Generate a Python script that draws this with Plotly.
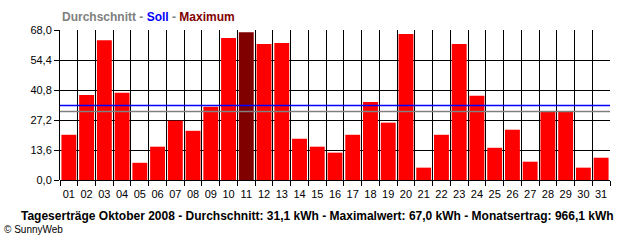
import plotly.graph_objects as go

days = [f"{d:02d}" for d in range(1, 32)]
yields = [20.5, 38.5, 63.4, 39.5, 7.8, 15.1, 26.9, 22.3, 33.2, 64.4,
          67.0, 61.7, 62.1, 18.7, 15.1, 12.4, 20.5, 35.4, 26.0, 66.2,
          5.6, 20.5, 61.7, 38.2, 14.6, 22.8, 8.3, 31.0, 31.0, 5.6, 10.1]
average = 31.1
target = 33.8
y_ticks = [0.0, 13.6, 27.2, 40.8, 54.4, 68.0]

xpos = list(range(1, len(days) + 1))
max_val = max(yields)
colors = ["#800000" if v == max_val else "#ff0000" for v in yields]

font_main = "Liberation Sans"

fig = go.Figure()
fig.add_trace(go.Bar(x=xpos, y=yields, marker=dict(color=colors, line=dict(width=0)),
                     width=0.84, showlegend=False, hoverinfo="skip"))
fig.add_trace(go.Scatter(x=[0.5, len(days) + 0.5], y=[target, target], mode="lines",
                         line=dict(color="#0000ff", width=1.5), showlegend=False))
fig.add_trace(go.Scatter(x=[0.5, len(days) + 0.5], y=[average, average], mode="lines",
                         line=dict(color="#808080", width=1.5), showlegend=False))
# dummy trace on second x axis to drive category-boundary gridlines
fig.add_trace(go.Scatter(x=[0.5, len(days) + 0.5], y=[None, None], xaxis="x2",
                         showlegend=False, hoverinfo="skip"))

fig.update_layout(
    width=640, height=240,
    margin=dict(l=60, r=30, t=30, b=60),
    paper_bgcolor="white", plot_bgcolor="white",
    separators=",.",
    font=dict(family=font_main, size=11, color="black"),
    xaxis=dict(range=[0.5, len(days) + 0.5], tickvals=xpos, ticktext=days,
               showgrid=False, ticks="", zeroline=False, showline=False,
               tickfont=dict(size=11), ticklabelstandoff=6, fixedrange=True),
    xaxis2=dict(range=[0.5, len(days) + 0.5], overlaying="x", side="bottom",
                tick0=0.5, dtick=1, showgrid=True, gridcolor="black", gridwidth=1,
                ticks="outside", ticklen=5, tickcolor="black", showticklabels=False,
                showline=False, zeroline=False),
    yaxis=dict(range=[0, 68.0], tickvals=y_ticks, tickformat=".1f",
               showgrid=True, gridcolor="black", gridwidth=1,
               ticks="outside", ticklen=5, tickcolor="black",
               showline=True, linecolor="black", linewidth=1,
               zeroline=True, zerolinecolor="black", zerolinewidth=1,
               tickfont=dict(size=11)),
    bargap=0.16,
)

fig.add_annotation(xref="paper", yref="paper", x=0, y=1.0, yshift=13,
                   xanchor="left", yanchor="middle", showarrow=False,
                   text="<b><span style='color:#808080'>Durchschnitt - </span>"
                        "<span style='color:#0000ff'>Soll</span>"
                        "<span style='color:#808080'> - </span>"
                        "<span style='color:#800000'>Maximum</span></b>",
                   font=dict(size=12, family=font_main))
total = sum(yields)
fig.add_annotation(xref="paper", yref="paper", x=0.469, y=-0.24,
                   xanchor="center", yanchor="middle", showarrow=False,
                   text=f"<b>Tageserträge Oktober 2008 - Durchschnitt: {average:.1f} kWh - "
                        f"Maximalwert: {max_val:.1f} kWh - Monatsertrag: {total:.1f} kWh</b>".replace(".", ","),
                   font=dict(size=12, family=font_main))
fig.add_annotation(xref="paper", yref="paper", x=-0.106, y=-0.327,
                   xanchor="left", yanchor="middle", showarrow=False,
                   text="© SunnyWeb", font=dict(size=10, family=font_main))

fig.write_html("out.html")
